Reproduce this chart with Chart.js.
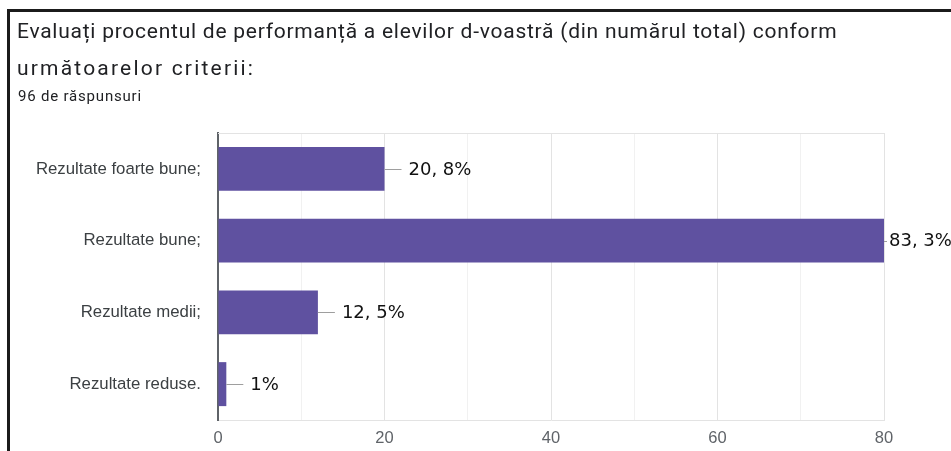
<!DOCTYPE html>
<html><head><meta charset="utf-8">
<script src="https://cdn.jsdelivr.net/npm/chart.js@4/dist/chart.umd.min.js"></script>
<style>
html,body{margin:0;padding:0;background:#fff;}
#wrap{position:relative;width:951px;height:451px;overflow:hidden;}
#frame{position:absolute;left:7px;top:9px;right:-5px;bottom:-5px;border-top:3px solid #1b1b1b;border-left:3px solid #1b1b1b;}
.t{position:absolute;left:17px;font-family:Roboto;font-size:21px;line-height:24px;color:#202124;white-space:nowrap;}
#t1{top:19px;letter-spacing:0.75px;}
#t2{top:56px;letter-spacing:2.2px;}
#s{position:absolute;left:18px;top:87px;font-family:Roboto;font-size:15px;line-height:18px;letter-spacing:0.8px;color:#202124;white-space:nowrap;}
canvas{position:absolute;left:0;top:0;}
</style></head>
<body>
<div id="wrap">
<canvas id="c" width="951" height="451"></canvas>
<div id="frame"></div>
<div class="t" id="t1">Evaluați procentul de performanță a elevilor d-voastră (din numărul total) conform</div>
<div class="t" id="t2">următoarelor criterii:</div>
<div id="s">96 de răspunsuri</div>
</div>
<script>
const categories = ["Rezultate foarte bune;", "Rezultate bune;", "Rezultate medii;", "Rezultate reduse."];
const values = [20, 80, 12, 1];
const valueLabels = ["20, 8%", "83, 3%", "12, 5%", "1%"];
const xTickLabels = [0, 20, 40, 60, 80];
const xMax = 80;

const labelPlugin = {
  id: 'valueLabels',
  beforeDatasetsDraw(chart) {
    const {ctx, chartArea} = chart;
    ctx.save();
    ctx.strokeStyle = '#e3e3e3';
    ctx.lineWidth = 1;
    ctx.beginPath();
    ctx.moveTo(chartArea.left, chartArea.top + 0.5);
    ctx.lineTo(chartArea.right, chartArea.top + 0.5);
    ctx.stroke();
    ctx.restore();
  },
  afterDatasetsDraw(chart) {
    const {ctx, chartArea} = chart;
    const meta = chart.getDatasetMeta(0);
    ctx.save();
    meta.data.forEach((bar, i) => {
      const atEdge = bar.x >= chartArea.right - 1;
      const end = Math.min(bar.x, chartArea.right);
      const len = atEdge ? 3 : 17;
      const y = Math.round(bar.y) + 0.5;
      ctx.strokeStyle = '#9e9e9e';
      ctx.lineWidth = 1;
      ctx.beginPath();
      ctx.moveTo(end, y);
      ctx.lineTo(end + len, y);
      ctx.stroke();
      ctx.fillStyle = '#111';
      ctx.font = '18px "DejaVu Sans"';
      ctx.textBaseline = 'middle';
      ctx.textAlign = 'left';
      ctx.fillText(valueLabels[i], end + len + (atEdge ? 2 : 7), bar.y + 1);
    });
    ctx.restore();
  }
};

new Chart(document.getElementById('c'), {
  type: 'bar',
  data: {
    labels: categories,
    datasets: [{
      data: values,
      backgroundColor: '#5f51a0',
      borderWidth: 0,
      barPercentage: 0.613,
      categoryPercentage: 1
    }]
  },
  options: {
    indexAxis: 'y',
    responsive: false,
    animation: false,
    layout: {padding: {top: 133, right: 67, left: 0, bottom: 0}},
    plugins: {legend: {display: false}, tooltip: {enabled: false}, title: {display: false}},
    scales: {
      x: {
        min: 0, max: xMax,
        afterBuildTicks(s) { s.ticks = []; for (let v = 0; v <= xMax; v += 10) s.ticks.push({value: v}); },
        ticks: {
          callback: (v) => xTickLabels.includes(v) ? String(v) : '',
          color: '#5f6368',
          font: {family: '"Liberation Sans", Arial', size: 16.5},
          padding: 9, maxRotation: 0, autoSkip: false
        },
        grid: {
          color: (c) => (c.tick && c.tick.value === 0) ? 'rgba(0,0,0,0)' : ((c.tick && c.tick.value % 20 === 0) ? '#e3e3e3' : '#f1f1f1'),
          drawTicks: false, lineWidth: 1
        },
        border: {display: true, color: '#e3e3e3'},
        afterFit(s) { s.height = 31; }
      },
      y: {
        ticks: {
          color: '#3c4043',
          font: {family: '"Liberation Sans", Arial', size: 16.8},
          padding: 17
        },
        grid: {display: false, drawTicks: false},
        border: {display: true, color: '#5f6368', width: 2},
        afterFit(s) { s.width = 218; }
      }
    }
  },
  plugins: [labelPlugin]
});
</script>
</body></html>
